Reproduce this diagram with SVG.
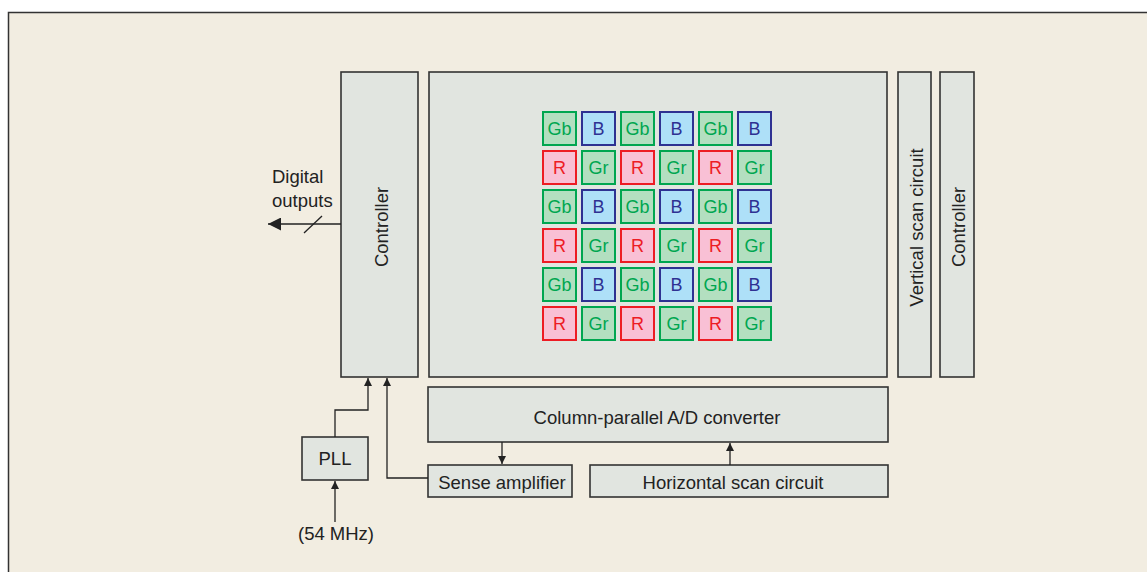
<svg xmlns="http://www.w3.org/2000/svg" width="1147" height="572" viewBox="0 0 1147 572">
<defs>
<style>
.box{fill:#e1e5e0;stroke:#333;stroke-width:1.6}
.t{font-family:"Liberation Sans",Arial,sans-serif;font-size:18.5px;fill:#222;text-anchor:middle}
.line{fill:none;stroke:#222;stroke-width:1.3}
.g rect{fill:#b3dfc0;stroke:#00a650;stroke-width:2}
.g text{fill:#00a650}
.b rect{fill:#aee0f8;stroke:#2e3192;stroke-width:2}
.b text{fill:#2e3192}
.r rect{fill:#f9c0d5;stroke:#ed1c24;stroke-width:2}
.r text{fill:#ed1c24}
.cell text{font-family:"Liberation Sans",Arial,sans-serif;font-size:18px;text-anchor:middle}
</style>
<marker id="ah" viewBox="0 0 10 10" refX="10" refY="5" markerWidth="11" markerHeight="8" markerUnits="userSpaceOnUse" orient="auto"><path d="M0,0 L10,5 L0,10 z" fill="#222"/></marker>
<marker id="ahBig" viewBox="0 0 10 10" refX="10" refY="5" markerWidth="19" markerHeight="13" markerUnits="userSpaceOnUse" orient="auto"><path d="M0,0 L10,5 L0,10 z" fill="#222"/></marker>
</defs>
<rect x="0" y="0" width="1147" height="572" fill="#ffffff"/>
<rect x="8.5" y="12.5" width="1150" height="570" fill="#f2ede1" stroke="#333" stroke-width="1.5"/>

<g id="controller-left"><rect class="box" x="341" y="72" width="77" height="305"/><text class="t" transform="translate(388,227) rotate(-90)">Controller</text></g>
<g id="pixel-array"><rect class="box" x="429" y="72" width="458" height="305"/></g>
<g id="vertical-scan"><rect class="box" x="898" y="72" width="33" height="305"/><text class="t" transform="translate(923,227.5) rotate(-90)">Vertical scan circuit</text></g>
<g id="controller-right"><rect class="box" x="940" y="72" width="34" height="305"/><text class="t" transform="translate(965,227) rotate(-90)">Controller</text></g>
<g id="adc"><rect class="box" x="428" y="387" width="460" height="55"/><text class="t" x="657" y="424">Column-parallel A/D converter</text></g>
<g id="sense-amp"><rect class="box" x="428" y="465" width="144" height="32"/><text class="t" x="502" y="489">Sense amplifier</text></g>
<g id="horizontal-scan"><rect class="box" x="590" y="465" width="298" height="32"/><text class="t" x="733" y="489">Horizontal scan circuit</text></g>
<g id="pll"><rect class="box" x="302" y="437" width="66" height="43"/><text class="t" x="335" y="465">PLL</text></g>

<g id="bayer">
<g class="cell g"><rect x="543" y="112" width="33" height="33"/><text x="559.5" y="135">Gb</text></g>
<g class="cell b"><rect x="582" y="112" width="33" height="33"/><text x="598.5" y="135">B</text></g>
<g class="cell g"><rect x="621" y="112" width="33" height="33"/><text x="637.5" y="135">Gb</text></g>
<g class="cell b"><rect x="660" y="112" width="33" height="33"/><text x="676.5" y="135">B</text></g>
<g class="cell g"><rect x="699" y="112" width="33" height="33"/><text x="715.5" y="135">Gb</text></g>
<g class="cell b"><rect x="738" y="112" width="33" height="33"/><text x="754.5" y="135">B</text></g>

<g class="cell r"><rect x="543" y="151" width="33" height="33"/><text x="559.5" y="174">R</text></g>
<g class="cell g"><rect x="582" y="151" width="33" height="33"/><text x="598.5" y="174">Gr</text></g>
<g class="cell r"><rect x="621" y="151" width="33" height="33"/><text x="637.5" y="174">R</text></g>
<g class="cell g"><rect x="660" y="151" width="33" height="33"/><text x="676.5" y="174">Gr</text></g>
<g class="cell r"><rect x="699" y="151" width="33" height="33"/><text x="715.5" y="174">R</text></g>
<g class="cell g"><rect x="738" y="151" width="33" height="33"/><text x="754.5" y="174">Gr</text></g>

<g class="cell g"><rect x="543" y="190" width="33" height="33"/><text x="559.5" y="213">Gb</text></g>
<g class="cell b"><rect x="582" y="190" width="33" height="33"/><text x="598.5" y="213">B</text></g>
<g class="cell g"><rect x="621" y="190" width="33" height="33"/><text x="637.5" y="213">Gb</text></g>
<g class="cell b"><rect x="660" y="190" width="33" height="33"/><text x="676.5" y="213">B</text></g>
<g class="cell g"><rect x="699" y="190" width="33" height="33"/><text x="715.5" y="213">Gb</text></g>
<g class="cell b"><rect x="738" y="190" width="33" height="33"/><text x="754.5" y="213">B</text></g>

<g class="cell r"><rect x="543" y="229" width="33" height="33"/><text x="559.5" y="252">R</text></g>
<g class="cell g"><rect x="582" y="229" width="33" height="33"/><text x="598.5" y="252">Gr</text></g>
<g class="cell r"><rect x="621" y="229" width="33" height="33"/><text x="637.5" y="252">R</text></g>
<g class="cell g"><rect x="660" y="229" width="33" height="33"/><text x="676.5" y="252">Gr</text></g>
<g class="cell r"><rect x="699" y="229" width="33" height="33"/><text x="715.5" y="252">R</text></g>
<g class="cell g"><rect x="738" y="229" width="33" height="33"/><text x="754.5" y="252">Gr</text></g>

<g class="cell g"><rect x="543" y="268" width="33" height="33"/><text x="559.5" y="291">Gb</text></g>
<g class="cell b"><rect x="582" y="268" width="33" height="33"/><text x="598.5" y="291">B</text></g>
<g class="cell g"><rect x="621" y="268" width="33" height="33"/><text x="637.5" y="291">Gb</text></g>
<g class="cell b"><rect x="660" y="268" width="33" height="33"/><text x="676.5" y="291">B</text></g>
<g class="cell g"><rect x="699" y="268" width="33" height="33"/><text x="715.5" y="291">Gb</text></g>
<g class="cell b"><rect x="738" y="268" width="33" height="33"/><text x="754.5" y="291">B</text></g>

<g class="cell r"><rect x="543" y="307" width="33" height="33"/><text x="559.5" y="330">R</text></g>
<g class="cell g"><rect x="582" y="307" width="33" height="33"/><text x="598.5" y="330">Gr</text></g>
<g class="cell r"><rect x="621" y="307" width="33" height="33"/><text x="637.5" y="330">R</text></g>
<g class="cell g"><rect x="660" y="307" width="33" height="33"/><text x="676.5" y="330">Gr</text></g>
<g class="cell r"><rect x="699" y="307" width="33" height="33"/><text x="715.5" y="330">R</text></g>
<g class="cell g"><rect x="738" y="307" width="33" height="33"/><text x="754.5" y="330">Gr</text></g>
</g>

<g id="connectors">
<path class="line" d="M341,224 H268" stroke-width="2.2" marker-end="url(#ahBig)"/>
<path class="line" d="M304,233 L322,216"/>
<path class="line" d="M335,437 V410 H368 V378" marker-end="url(#ah)"/>
<path class="line" d="M428,478 H387 V378" marker-end="url(#ah)"/>
<path class="line" d="M335,522 V481" marker-end="url(#ah)"/>
<path class="line" d="M502,442 V464" marker-end="url(#ah)"/>
<path class="line" d="M730,465 V443" marker-end="url(#ah)"/>
</g>

<g id="labels">
<text class="t" x="272" y="183" text-anchor="start" style="text-anchor:start">Digital</text>
<text class="t" x="272" y="207" style="text-anchor:start">outputs</text>
<text class="t" x="336" y="540">(54 MHz)</text>
</g>
</svg>
